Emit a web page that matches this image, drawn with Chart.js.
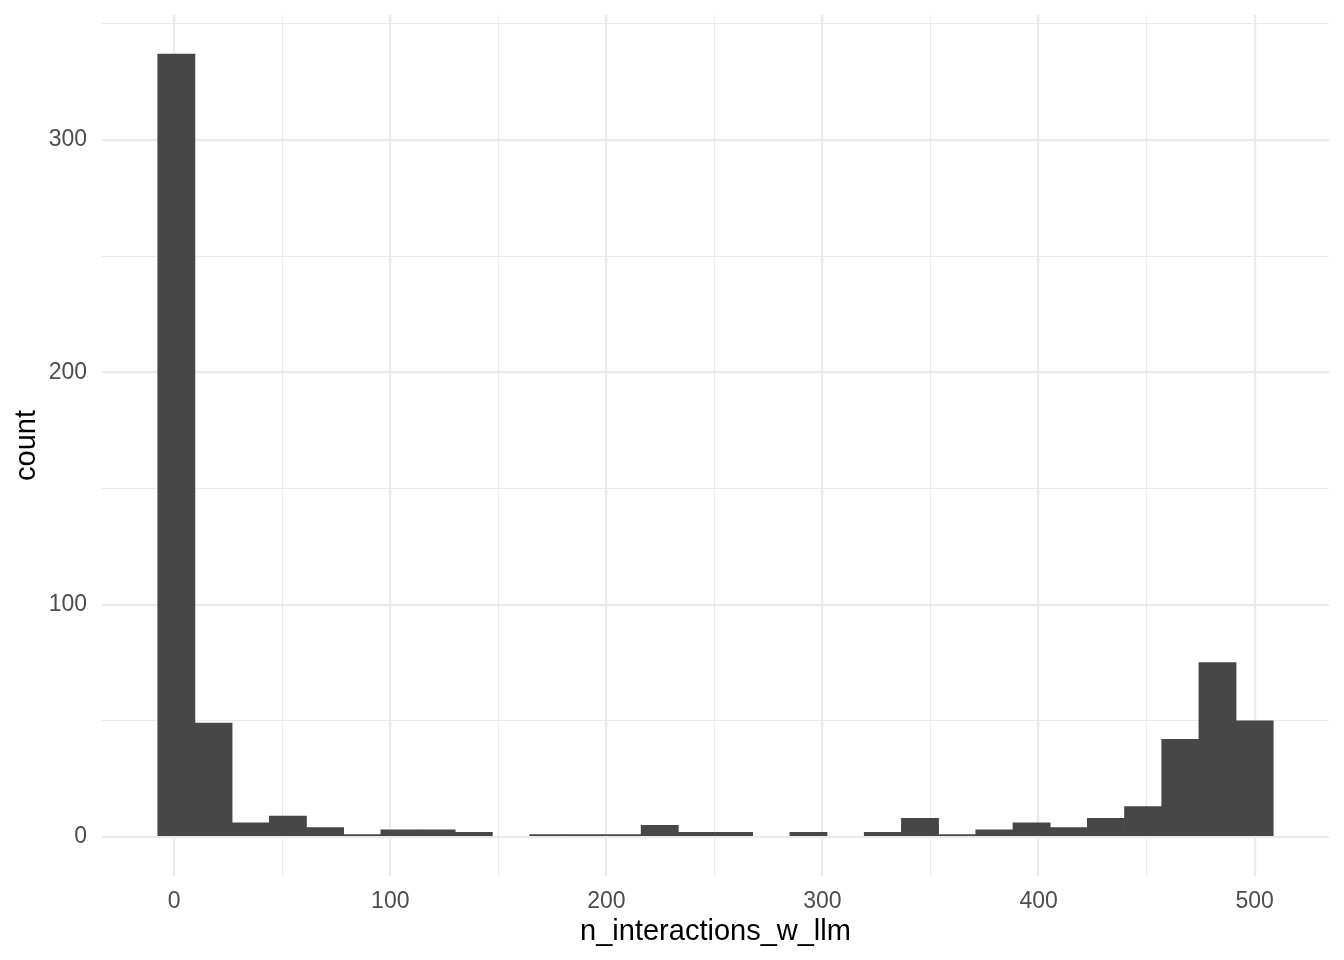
<!DOCTYPE html>
<html>
<head>
<meta charset="utf-8">
<script src="https://cdn.jsdelivr.net/npm/chart.js@4"></script>
<style>
    body { margin: 0; background: #ffffff; }
</style>
</head>
<body>
<canvas id="chart" width="1344" height="960"></canvas>
<script>
// histogram of n_interactions_w_llm, 30 bins, first bin centered on 1, last on 500
const firstCenter = 1;
const binWidth = 499 / 29;
const counts = [337, 49, 6, 9, 4, 1, 3, 3, 2, 0, 1, 1, 1, 5, 2, 2, 0, 2, 0, 2, 8, 1, 3, 6, 4, 8, 13, 42, 75, 50];
const xTicks = [0, 50, 100, 150, 200, 250, 300, 350, 400, 450, 500];
const yTicks = [0, 50, 100, 150, 200, 250, 300, 350];

const fontFamily = '"Liberation Sans", Arial, Helvetica, sans-serif';
const gridColor = '#EBEBEB';

// empty bins get null so nothing is drawn on the baseline
const points = counts.map((c, i) => ({ x: firstCenter + i * binWidth, y: c === 0 ? null : c }));

// major lines every 100, minor lines halfway
const gridWidth = (ctx) => (ctx.tick && ctx.tick.value % 100 === 0 ? 2.2 : 1.1);
const majorLabel = (value) => (value % 100 === 0 ? value : '');

new Chart(document.getElementById('chart'), {
    type: 'bar',
    data: {
        datasets: [
            {
                label: 'count',
                data: points,
                backgroundColor: '#474747',
                borderWidth: 0,
                barPercentage: 1,
                categoryPercentage: 1,
            },
        ],
    },
    options: {
        responsive: false,
        animation: false,
        layout: { padding: { top: 15, right: 15, left: 0, bottom: 0 } },
        plugins: {
            legend: { display: false },
            tooltip: { enabled: false },
        },
        scales: {
            x: {
                type: 'linear',
                offset: false,
                min: -33.4,
                max: 534.4,
                afterBuildTicks: (scale) => {
                    scale.ticks = xTicks.map((v) => ({ value: v }));
                },
                afterFit: (scale) => {
                    scale.height = 84;
                    scale.paddingLeft = 0;
                    scale.paddingRight = 0;
                },
                border: { display: false },
                grid: {
                    offset: false,
                    color: gridColor,
                    lineWidth: gridWidth,
                    drawTicks: false,
                },
                ticks: {
                    autoSkip: false,
                    maxRotation: 0,
                    padding: 12,
                    color: '#4D4D4D',
                    font: { family: fontFamily, size: 23 },
                    callback: majorLabel,
                },
                title: {
                    display: true,
                    text: 'n_interactions_w_llm',
                    color: '#000000',
                    padding: { top: 0, bottom: 11 },
                    font: { family: fontFamily, size: 29 },
                },
            },
            y: {
                type: 'linear',
                min: -16.85,
                max: 353.85,
                afterBuildTicks: (scale) => {
                    scale.ticks = yTicks.map((v) => ({ value: v }));
                },
                afterFit: (scale) => {
                    scale.width = 102;
                    scale.paddingTop = 0;
                    scale.paddingBottom = 0;
                },
                border: { display: false },
                grid: {
                    color: gridColor,
                    lineWidth: gridWidth,
                    drawTicks: false,
                },
                ticks: {
                    autoSkip: false,
                    padding: 15,
                    color: '#4D4D4D',
                    font: { family: fontFamily, size: 23 },
                    callback: majorLabel,
                },
                title: {
                    display: true,
                    text: 'count',
                    color: '#000000',
                    padding: { top: 10, bottom: 0 },
                    font: { family: fontFamily, size: 29 },
                },
            },
        },
    },
});
</script>
</body>
</html>
